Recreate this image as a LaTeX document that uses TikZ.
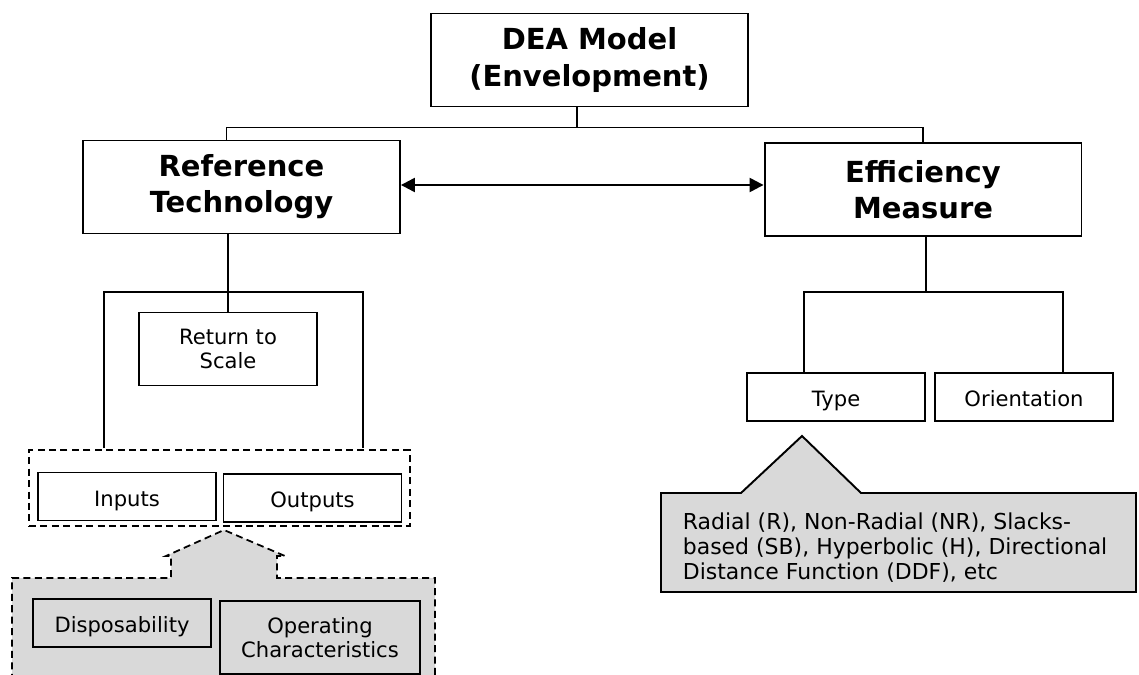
\documentclass[tikz,border=0pt]{standalone}
\usepackage{fontspec}
\setmainfont{DejaVu Sans}
\usetikzlibrary{arrows.meta,positioning}
\definecolor{callgray}{HTML}{D9D9D9}

\begin{document}
\begin{tikzpicture}[x=0.02cm, y=-0.02cm, line width=1pt,
	main/.style={draw, line width=1.1pt, inner sep=0pt, align=center, minimum width=6.34cm, minimum height=1.86cm, font=\fontsize{16.5}{20.5}\selectfont\bfseries},
	sub/.style={draw, line width=1.1pt, inner sep=0pt, align=center, minimum width=3.56cm, minimum height=0.96cm, font=\fontsize{12}{13.6}\selectfont},
	one/.style={text height=11pt, text depth=0pt},
	dashline/.style={dash pattern=on 4pt off 2.5pt, line width=1pt}]
	\useasboundingbox (0,0) rectangle (1139,675);
	\fill[white] (0,0) rectangle (1139,675);

	\draw[dashline, fill=callgray] (435,675) -- (435,578) -- (277,578) -- (277,556) -- (285,556) -- (224,530) -- (166,556) -- (171,556) -- (171,578) -- (12,578) -- (12,675);
	\draw[line width=1.1pt, fill=callgray] (661,592) -- (661,493) -- (741,493) -- (802,436) -- (861,493) -- (1136,493) -- (1136,592) -- cycle;

	\node[main] (1) at (589.5,60) {DEA Model\\(Envelopment)};
	\node[main] (2) at (241.5,187) {Reference\\Technology};
	\node[main] (3) at (923,189.5) {Efficiency\\Measure};
	\node[sub, minimum height=1.46cm] (4) at (228,349) {Return to\\Scale};
	\node[draw, dashline, inner sep=0pt, minimum width=7.62cm, minimum height=1.52cm] (5) at (219.5,488) {};
	\node[sub, one] (6) at (127,496.5) {Inputs};
	\node[sub, one] (7) at (312.5,498) {Outputs};
	\node[sub, one] (8) at (122,623) {Disposability};
	\node[sub, minimum width=4cm, minimum height=1.46cm] (9) at (320,637.5) {Operating\\Characteristics};
	\node[sub, one] (10) at (836,397) {Type};
	\node[sub, one] (11) at (1024,397) {Orientation};
	\node[anchor=north west, align=left, inner sep=0pt, font=\fontsize{12.5}{14.2}\selectfont] (12) at (682,512) {Radial (R), Non-Radial (NR), Slacks-\\based (SB), Hyperbolic (H), Directional\\Distance Function (DDF), etc};

	\draw ([xshift=-0.25cm]1.south) -- ++(0,20) coordinate (b1);
	\draw ([xshift=-0.3cm]2.north) |- (b1) -| (3.north);
	\draw[<->, >={Triangle[length=8pt, width=8pt]}, line width=1.3pt] ([yshift=0.04cm]2.east) -- ([yshift=0.04cm]2.east -| 3.west);

	\coordinate (t1) at (104,448);
	\coordinate (t2) at (363,448);
	\draw (4.north |- 2.south) -- (4.north);
	\draw (t1) -- ++(0,-156) -| (t2);

	\coordinate (t3) at (804,372);
	\coordinate (t4) at (1063,372);
	\draw ([xshift=0.06cm]3.south) -- ++(0,55) coordinate (b2);
	\draw (t3) |- (b2) -| (t4);
\end{tikzpicture}
\end{document}
